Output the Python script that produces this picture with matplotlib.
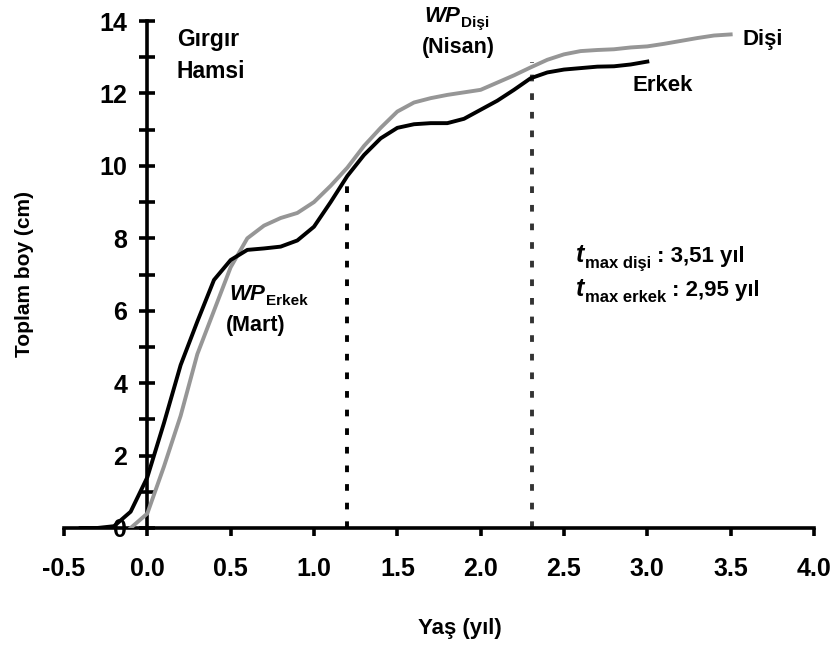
import matplotlib.pyplot as plt
import numpy as np

plt.rcParams['font.family'] = ['Liberation Sans', 'DejaVu Sans']
plt.rcParams['font.weight'] = 'bold'
plt.rcParams['axes.unicode_minus'] = False
plt.rcParams['lines.scale_dashes'] = False

# erkek (male) growth curve
age_male = [-0.4, -0.3, -0.2, -0.1, 0.0, 0.1, 0.2, 0.3, 0.4, 0.5, 0.6, 0.7, 0.8, 0.9,
            1.0, 1.1, 1.2, 1.3, 1.4, 1.5, 1.6, 1.7, 1.8, 1.9, 2.0, 2.1, 2.2, 2.3,
            2.4, 2.5, 2.6, 2.7, 2.8, 2.9, 3.0]
len_male = [0.0, 0.0, 0.05, 0.45, 1.4, 2.9, 4.5, 5.7, 6.85, 7.4, 7.68, 7.72, 7.77, 7.94,
            8.32, 9.0, 9.72, 10.3, 10.76, 11.05, 11.15, 11.18, 11.18, 11.3, 11.55, 11.8,
            12.1, 12.42, 12.58, 12.66, 12.7, 12.74, 12.75, 12.8, 12.88]

# dişi (female) growth curve
age_female = [-0.1, 0.0, 0.1, 0.2, 0.3, 0.4, 0.5, 0.6, 0.7, 0.8, 0.9, 1.0, 1.1, 1.2,
              1.3, 1.4, 1.5, 1.6, 1.7, 1.8, 1.9, 2.0, 2.1, 2.2, 2.3, 2.4, 2.5, 2.6,
              2.7, 2.8, 2.9, 3.0, 3.1, 3.2, 3.3, 3.4, 3.5]
len_female = [0.0, 0.4, 1.7, 3.1, 4.8, 6.0, 7.2, 8.0, 8.35, 8.56, 8.7, 9.0, 9.45, 9.95,
              10.55, 11.05, 11.5, 11.75, 11.87, 11.96, 12.03, 12.1, 12.3, 12.5, 12.72,
              12.93, 13.08, 13.17, 13.2, 13.22, 13.27, 13.3, 13.37, 13.45, 13.53, 13.6, 13.63]

# winter points (WP)
wp_male_age, wp_male_len = 1.2, 9.72
wp_female_age, wp_female_len = 2.31, 12.87

x_ticks = np.arange(-0.5, 4.01, 0.5)
y_ticks = np.arange(0, 15, 2)

fig = plt.figure(figsize=(8.33, 6.45), dpi=100)
ax = fig.add_axes([0.0768, 0.1814, 0.9004, 0.786])

ax.plot(age_female, len_female, color='#969696', lw=2.8, zorder=3)
ax.plot(age_male, len_male, color='black', lw=2.8, zorder=4)
ax.plot([wp_male_age, wp_male_age], [0, wp_male_len], color='black', lw=2.8,
        linestyle=(0, (4.8, 8.6)), zorder=2)
ax.plot([wp_female_age, wp_female_age], [0, wp_female_len], color='#333333', lw=2.8,
        linestyle=(0, (4.8, 8.6)), zorder=2)

ax.set_xlim(-0.5, 4.0)
ax.set_ylim(0, 14)
for side in ['top', 'right']:
    ax.spines[side].set_visible(False)
ax.spines['left'].set_position(('data', 0))
ax.spines['left'].set_linewidth(2.6)
ax.spines['bottom'].set_linewidth(2.6)

ax.set_xticks(x_ticks)
ax.set_xticklabels([f'{v:.1f}' for v in x_ticks])
ax.set_yticks(y_ticks)
ax.set_yticks(np.arange(1, 14, 2), minor=True)
ax.tick_params(axis='x', direction='out', length=6, width=2.6, pad=15, labelsize=18)
ax.tick_params(axis='y', which='both', direction='inout', length=11, width=2.6,
               pad=9, labelsize=18)

fig.text(0.03, 0.5745, 'Toplam boy (cm)', rotation=90, fontsize=15,
         ha='center', va='center')
fig.text(0.552, 0.026, 'Yaş (yıl)', fontsize=16, ha='center', va='center')


def sub_label(x, y, main, sub, tail='', size=16, sub_size=11, tail_size=15,
              drop=-2.5):
    t = ax.text(x, y, main, fontsize=size, fontstyle='italic', va='baseline')
    s = ax.annotate(sub, xy=(1, 0), xycoords=t, xytext=(1, drop),
                    textcoords='offset points', fontsize=sub_size, va='bottom')
    if tail:
        ax.annotate(tail, xy=(1, 0), xycoords=(s, t), xytext=(4, 0),
                    textcoords='offset points', fontsize=tail_size, va='bottom')


ax.text(0.18, 13.3, 'Gırgır', fontsize=16.5, va='baseline')
ax.text(0.175, 12.43, 'Hamsi', fontsize=16.5, va='baseline')

sub_label(0.49, 6.3, 'WP', 'Erkek')
ax.text(0.474, 5.45, '(Mart)', fontsize=15.5, va='baseline')
sub_label(1.66, 13.98, 'WP', 'Dişi')
ax.text(1.65, 13.12, '(Nisan)', fontsize=15.5, va='baseline')

ax.text(3.57, 13.34, 'Dişi', fontsize=16, va='baseline')
ax.text(2.91, 12.07, 'Erkek', fontsize=16, va='baseline')

sub_label(2.57, 7.35, 't', 'max dişi', ': 3,51 yıl', size=18, sub_size=12,
          tail_size=16, drop=-3)
sub_label(2.57, 6.41, 't', 'max erkek', ': 2,95 yıl', size=18, sub_size=12,
          tail_size=16, drop=-3)

fig.savefig('out.png', dpi=100)
